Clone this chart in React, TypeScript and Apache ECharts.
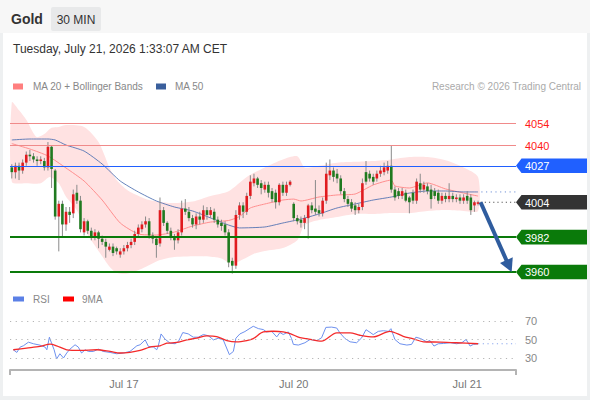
import React, { useEffect, useRef } from "react";
import * as echarts from "echarts";

const FONT = "'Liberation Sans', Arial, Helvetica, sans-serif";

// ---------- data ----------
const N_SLOTS = 140; // candle slots on the time axis (last 10 are empty)

// [open, close, low, high] – 30 min candles, Jul 16 08:30 -> Jul 21 01:30
const candles: number[][] = [
  [4026, 4023, 4019, 4028], [4023, 4027, 4019, 4029], [4027, 4024, 4018, 4029], [4024, 4029, 4022, 4031],
  [4029, 4034, 4027, 4036], [4034, 4033, 4030, 4037], [4033, 4031, 4029, 4035], [4031, 4030, 4027, 4033],
  [4030, 4031, 4028, 4033], [4030, 4026, 4024, 4032], [4026, 4039, 4024, 4042], [4039, 4025, 4013, 4040],
  [4024, 3995, 3993, 4025], [3995, 4003, 3973, 4005], [4003, 3990, 3982, 4005], [3990, 3998, 3986, 4001],
  [3998, 3996, 3991, 4001], [3997, 4009, 3994, 4012], [4010, 4005, 4003, 4015], [4005, 3987, 3985, 4008],
  [3985, 3992, 3983, 3994], [3992, 3986, 3984, 3993], [3986, 3982, 3980, 3988], [3982, 3985, 3980, 3987],
  [3985, 3981, 3975, 3986], [3981, 3979, 3977, 3983], [3979, 3976, 3969, 3981], [3974, 3976, 3973, 3978],
  [3976, 3972, 3970, 3978], [3975, 3973, 3971, 3976], [3971, 3973, 3969, 3975], [3973, 3975, 3971, 3977],
  [3975, 3977, 3973, 3979], [3977, 3979, 3975, 3981], [3979, 3984, 3977, 3986], [3984, 3988, 3982, 3990],
  [3987, 3990, 3985, 3992], [3990, 3992, 3988, 3995], [3992, 3983, 3981, 3994], [3983, 3981, 3978, 3985],
  [3981, 3977, 3969, 3982], [3978, 3999, 3976, 4007], [3999, 3991, 3989, 4001], [3991, 3986, 3984, 3992],
  [3986, 3982, 3980, 3988], [3982, 3980, 3974, 3984], [3980, 3985, 3978, 3987], [3985, 4000, 3983, 4005],
  [4000, 3998, 3996, 4006], [3998, 3994, 3992, 4001], [3994, 3990, 3988, 3996], [3990, 3995, 3987, 3997],
  [3995, 3993, 3990, 3998], [3993, 3999, 3991, 4002], [3999, 3996, 3993, 4001], [3996, 3999, 3994, 4001],
  [3998, 3993, 3991, 4000], [3993, 3990, 3988, 3995], [3991, 3989, 3986, 3993], [3990, 3985, 3983, 3992],
  [3985, 3966, 3963, 3987], [3967, 3964, 3959, 3969], [3964, 3996, 3962, 3999], [3996, 4002, 3993, 4004],
  [4002, 3998, 3994, 4004], [3998, 4008, 3996, 4010], [4008, 4017, 4006, 4021], [4016, 4019, 4014, 4022],
  [4019, 4015, 4013, 4020], [4016, 4013, 4009, 4018], [4012, 4015, 4010, 4017], [4015, 4010, 4007, 4017],
  [4011, 4006, 4004, 4013], [4010, 4004, 4000, 4012], [4004, 4015, 4002, 4016], [4015, 4010, 4008, 4017],
  [4010, 4015, 4008, 4017], [4015, 4017, 4014, 4018], [4003, 3994, 3992, 4004], [3994, 3992, 3990, 3996],
  [3993, 3991, 3988, 3995], [3991, 3994, 3987, 3996], [3994, 4002, 3981, 4003], [4002, 3999, 3997, 4004],
  [4000, 3998, 3996, 4018], [3999, 3997, 3995, 4002], [3997, 4005, 3995, 4007], [4005, 4022, 4003, 4029],
  [4021, 4024, 4018, 4031], [4024, 4020, 4017, 4026], [4022, 4019, 4016, 4025], [4019, 4011, 4009, 4021],
  [4011, 4006, 4004, 4013], [4006, 4003, 4001, 4008], [4004, 4000, 3998, 4006], [4002, 3999, 3996, 4004],
  [3999, 4001, 3997, 4003], [4001, 4016, 3999, 4019], [4023, 4017, 4015, 4030], [4022, 4019, 4017, 4024],
  [4020, 4017, 4015, 4022], [4019, 4022, 4017, 4024], [4022, 4024, 4020, 4027], [4023, 4026, 4021, 4029],
  [4024, 4027, 4022, 4030], [4027, 4012, 4010, 4040], [4012, 4007, 4005, 4014], [4011, 4008, 4006, 4013],
  [4008, 4011, 4006, 4013], [4010, 4005, 4004, 4012], [4007, 4004, 3997, 4008], [4010, 4005, 4003, 4012],
  [4005, 4017, 4003, 4019], [4016, 4012, 4010, 4022], [4012, 4015, 4010, 4017], [4014, 4011, 4009, 4016],
  [4012, 4006, 4000, 4015], [4011, 4008, 4006, 4013], [4010, 4005, 4003, 4012], [4005, 4008, 4003, 4010],
  [4008, 4006, 4004, 4010], [4006, 4008, 4004, 4016], [4008, 4006, 4004, 4010], [4006, 4007, 4004, 4009],
  [4007, 4005, 4003, 4009], [4005, 4007, 4003, 4009], [4008, 4005, 4003, 4011], [4007, 3999, 3996, 4009],
  [4002, 4004, 3998, 4005], [4003, 4004, 4002, 4005],
];

// [candle index, price]
const upperBand: number[][] = [
  [0, 4067], [2, 4062], [4, 4056], [6, 4047.5], [7, 4045], [9, 4047], [11, 4051], [13, 4051.5],
  [15, 4052.7], [20, 4051.5], [24, 4042], [27, 4026], [29, 4018], [32, 4011.5], [35.5, 4007.5],
  [38, 4005.4], [44, 4003.5], [50, 4004.5], [55, 4008], [60, 4011], [65, 4020], [70, 4026], [75, 4031],
  [79, 4033], [81, 4026], [85, 4027], [90, 4029], [95, 4029.5], [100, 4030], [105, 4031], [110, 4032.5],
  [115, 4032.5], [120, 4030.5], [125, 4026], [129, 4020],
];
const lowerBand: number[][] = [
  [0, 4017], [4, 4016], [8, 4016], [10.5, 4020], [13, 4016], [15, 4007.5], [18, 3999], [20.7, 3984.6],
  [24.4, 3972], [27, 3963.5], [29, 3959.5], [32, 3959], [36, 3962], [41, 3967.5], [45, 3969.5],
  [52, 3970], [56, 3969.5], [58, 3968.5], [61, 3965], [64, 3968], [67, 3971.5], [70, 3973.2],
  [75, 3975.1], [79, 3980], [81, 3989.6], [85, 3992.8], [90, 3994.7], [95, 3996.6], [100, 3996.6],
  [105, 3997.2], [110, 3997.2], [115, 3998.5], [120, 3999.1], [125, 3998.5], [129, 3998.5],
];
const ma20: number[][] = [
  [0, 4041], [5, 4037.6], [10, 4033.2], [15, 4025.6], [20, 4017.4], [25, 4005.4], [30, 3990.9],
  [35, 3984], [40, 3983.3], [45, 3985.2], [50, 3989], [55, 3991.5], [60, 3992.5], [63, 3995],
  [66, 4000.4], [70, 4002.9], [75, 4005.4], [78, 4006], [80, 4004.8], [85, 4007.3], [90, 4008.6],
  [95, 4009.2], [100, 4014.9], [105, 4018], [106, 4014.3], [110, 4013], [115, 4016.2], [120, 4012.4],
  [125, 4009.8], [129, 4007.9],
];
const ma50: number[][] = [
  [0, 4043.3], [5, 4043.9], [10, 4043.9], [12, 4043.3], [15, 4040.1], [20, 4036.3], [25, 4028.1],
  [30, 4017.4], [35, 4010.5], [40, 4004.8], [45, 4001], [50, 3998.5], [55, 3994.1], [60, 3989.6],
  [63, 3987.8], [70, 3988.4], [75, 3990.9], [80, 3993.4], [85, 3996.6], [90, 4000.4], [95, 4002.9],
  [100, 4005.4], [105, 4007.3], [110, 4009.8], [115, 4011.1], [120, 4011.1], [125, 4010.5], [129, 4010.5],
];

// [candle index, RSI]
const rsi: number[][] = [
  [0.4, 38.9], [1.4, 36], [2.3, 41.8], [3.2, 43.2], [4.6, 47.1], [6, 45.4], [7.8, 43.9], [9.2, 41.8],
  [9.7, 38.9], [10.4, 52.5], [11, 46], [11.7, 39], [12.4, 28.9], [13.3, 34.6], [14.3, 30], [15.2, 35.4],
  [16.1, 39.6], [17.5, 44.3], [18.4, 41.8], [19.3, 35.4], [20.3, 38.9], [21.2, 37.1], [22.6, 37.1],
  [23.9, 39.6], [25.3, 37.1], [27.2, 36], [29, 34.6], [30.9, 35.4], [32.7, 37.1], [34.6, 43.2],
  [35.5, 44.3], [36.9, 49.6], [37.8, 42.5], [39.2, 41.8], [40.1, 38.9], [40.5, 42.5], [41.3, 56],
  [42.4, 50.4], [43.8, 46], [45.2, 45.4], [46.1, 47.9], [47.3, 57.5], [48.8, 56.1], [50.2, 52.5],
  [51.6, 52.5], [53, 55.4], [54.4, 54], [55.8, 49.6], [57.1, 51.4], [58.5, 49.6], [60.2, 33.6],
  [61.3, 37.1], [62, 51.4], [63.1, 56], [64.5, 58.6], [65.9, 62.1], [66.8, 64.3], [68.2, 61.8],
  [69.6, 60.7], [70.5, 58.2], [71.9, 58.9], [73.3, 52.8], [74.2, 57.5], [75.1, 55.4], [76.5, 58.2],
  [77.4, 51], [77.9, 44.7], [79.3, 44], [81.1, 46.5], [82.5, 50], [84.4, 48.9], [85.7, 51.8],
  [86.9, 63.1], [88.5, 63.4], [89.9, 62.4], [90.8, 57], [92.2, 51], [93.6, 47.5], [95.4, 46.5],
  [96.8, 51.8], [98, 60.6], [99.1, 57.8], [100, 55.3], [101.4, 58.8], [102.8, 59.5], [104.2, 58.8],
  [104.9, 61.7], [106, 50], [107.4, 45.4], [109.3, 44], [110.6, 44.7], [111.8, 52.5], [113.1, 51],
  [114.8, 47.5], [115.7, 48.9], [116.8, 42.9], [118, 45.4], [119.4, 45.7], [121.3, 46.5], [123.1, 45.4],
  [124.5, 46.5], [125.7, 50], [126.8, 42.9], [127.7, 44.7], [129, 45.4],
];
const rsiMa9: number[][] = [
  [0.4, 38.9], [4.1, 40.7], [7.8, 42.5], [10.6, 45], [12.4, 43.2], [15.2, 38.9], [18.9, 38.2],
  [23.5, 38.9], [27.2, 37.1], [29.9, 35.4], [32.7, 36.1], [35.5, 38.2], [38.2, 41.8], [41, 43.2],
  [42.9, 46], [45.6, 46.8], [48.4, 49.6], [51.2, 51.4], [53.9, 53.9], [56.7, 53.2], [59.5, 48.9],
  [62.2, 47.5], [65, 48.9], [66.8, 51], [69.6, 58.2], [72.4, 58.9], [75.1, 58.2], [77, 56.4],
  [79.7, 52], [81.6, 51], [85.7, 48.2], [89.9, 57.1], [93.6, 57.1], [96.3, 54.6], [100, 52.8],
  [104.6, 58.8], [108.3, 53.5], [111.1, 50.7], [113.9, 47.5], [118.5, 47.2], [123.1, 46.5], [129, 45.4],
];
const rsiLevels = [70, 50, 30];

const levelValues = [4054, 4040, 4027, 4004, 3982, 3960];
const levelTypes = ["resistance", "resistance", "pivot", "last", "support", "support"];
const lastClose = 4004;
const ma50Last = 4010.5;
const rsiLast = 45.4;
const arrowFrom = [129.7, 4004];
const arrowTo = [138.3, 3960];

const xTickIndex = [31, 78, 126];
const xTickLabels = ["Jul 17", "Jul 20", "Jul 21"];

const titleText = "Gold";
const periodText = "30 MIN";
const dateText = "Tuesday, July 21, 2026 1:33:07 AM CET";
const legendMain = ["MA 20 + Bollinger Bands", "MA 50"];
const legendRsi = ["RSI", "9MA"];
const creditText = "Research \u00A9 2026 Trading Central";

// ---------- styles ----------
const UP = "#e01b1f";
const DOWN = "#207a20";
const WICK = "#8a8a8a";
const LEVEL_STYLE: Record<string, any> = {
  resistance: { line: "#f08a8a", width: 1, text: "#ff1a1a" },
  pivot: { line: "#2060ff", width: 1.2, tag: "#2060ff" },
  last: { tag: "#333333" },
  support: { line: "#0a7a0a", width: 2, tag: "#0a7a0a" },
};

export default function App() {
  const ref = useRef<HTMLDivElement>(null);

  useEffect(() => {
    const chart = echarts.init(ref.current!, undefined, { renderer: "svg" });
    const last = candles.length - 1;

    const candleData = candles.map((c, i) => [i, c[0], c[1], c[2], c[3]]);

    const option: any = {
      animation: false,
      textStyle: { fontFamily: FONT },
      grid: [
        { left: 10, width: 506, top: 97.64, height: 190.2 },
        { left: 10, width: 506, top: 311.75, height: 58.275 },
      ],
      xAxis: [
        { type: "value", gridIndex: 0, min: -0.5, max: N_SLOTS - 0.5, show: false },
        {
          type: "value",
          gridIndex: 1,
          min: -0.5,
          max: N_SLOTS - 0.5,
          axisLine: { show: true, onZero: false, lineStyle: { color: "#b4b4b4", width: 2 } },
          axisTick: {
            show: true,
            customValues: [-0.5, N_SLOTS - 0.5],
            length: 5,
            lineStyle: { color: "#b4b4b4", width: 2 },
          },
          axisLabel: {
            customValues: xTickIndex,
            formatter: (v: number) => {
              const k = xTickIndex.indexOf(Math.round(v));
              return k >= 0 ? xTickLabels[k] : "";
            },
            color: "#777",
            fontSize: 11,
            margin: 8,
            fontFamily: FONT,
          },
          splitLine: { show: false },
        },
      ],
      yAxis: [
        { type: "value", gridIndex: 0, min: 3950, max: 4070, show: false, splitLine: { show: false } },
        { type: "value", gridIndex: 1, min: 17, max: 80, show: false, splitLine: { show: false } },
      ],
      graphic: [
        { type: "rect", z: -10, shape: { x: 0, y: 0, width: 590, height: 33 }, style: { fill: "#f7f7f7" } },
        { type: "rect", z: -10, shape: { x: 3, y: 33, width: 584, height: 363 }, style: { fill: "#ffffff" } },
        { type: "text", style: { text: titleText, x: 11, y: 19, verticalAlign: "middle", font: `bold 14px ${FONT}`, fill: "#333" } },
        { type: "rect", shape: { x: 51, y: 7, width: 50, height: 24, r: 2 }, style: { fill: "#e8e9ea" } },
        { type: "text", style: { text: periodText, x: 76, y: 19.5, align: "center", verticalAlign: "middle", font: `12px ${FONT}`, fill: "#333" } },
        { type: "text", style: { text: dateText, x: 13, y: 48.5, verticalAlign: "middle", font: `12px ${FONT}`, fill: "#333" } },
        { type: "rect", shape: { x: 13, y: 83.5, width: 10, height: 6 }, style: { fill: "#ff7f7f" } },
        { type: "text", style: { text: legendMain[0], x: 33, y: 86.5, verticalAlign: "middle", font: `10px ${FONT}`, fill: "#888" } },
        { type: "rect", shape: { x: 156, y: 83.5, width: 10, height: 6 }, style: { fill: "#3a5f9c" } },
        { type: "text", style: { text: legendMain[1], x: 175, y: 86.5, verticalAlign: "middle", font: `10px ${FONT}`, fill: "#888" } },
        { type: "text", style: { text: creditText, x: 581, y: 86.5, align: "right", verticalAlign: "middle", font: `10px ${FONT}`, fill: "#aaa" } },
        { type: "rect", shape: { x: 13, y: 296.5, width: 11, height: 5 }, style: { fill: "#5b80e6" } },
        { type: "text", style: { text: legendRsi[0], x: 33, y: 299, verticalAlign: "middle", font: `10px ${FONT}`, fill: "#888" } },
        { type: "rect", shape: { x: 63, y: 296.5, width: 11, height: 5 }, style: { fill: "#ff0000" } },
        { type: "text", style: { text: legendRsi[1], x: 82, y: 299, verticalAlign: "middle", font: `10px ${FONT}`, fill: "#888" } },
      ],
      series: [
        {
          type: "custom",
          name: "bollinger",
          xAxisIndex: 0,
          yAxisIndex: 0,
          z: 1,
          silent: true,
          data: [[0, 4000]],
          encode: { x: 0, y: 1 },
          renderItem: (_p: any, api: any) => {
            const pts = upperBand
              .map((p) => api.coord(p))
              .concat(lowerBand.slice().reverse().map((p) => api.coord(p)));
            return {
              type: "polygon",
              shape: { points: pts, smooth: 0.25 },
              style: { fill: "#ffe2e2" },
            };
          },
        },
        {
          type: "line",
          name: "MA 20",
          xAxisIndex: 0,
          yAxisIndex: 0,
          z: 2,
          data: ma20,
          symbol: "none",
          smooth: 0.2,
          lineStyle: { color: "#ff8e8e", width: 1 },
          silent: true,
        },
        {
          type: "line",
          name: "MA 50",
          xAxisIndex: 0,
          yAxisIndex: 0,
          z: 2,
          data: ma50,
          symbol: "none",
          smooth: 0.2,
          lineStyle: { color: "#4a6db0", width: 1, opacity: 0.85 },
          silent: true,
        },
        {
          type: "custom",
          name: "candles",
          xAxisIndex: 0,
          yAxisIndex: 0,
          z: 3,
          silent: true,
          data: candleData,
          encode: { x: 0, y: [1, 2, 3, 4] },
          renderItem: (_p: any, api: any) => {
            const i = api.value(0);
            const o = api.value(1);
            const c = api.value(2);
            const l = api.value(3);
            const h = api.value(4);
            const pO = api.coord([i, o]);
            const pC = api.coord([i, c]);
            const pL = api.coord([i, l]);
            const pH = api.coord([i, h]);
            const w = api.size([1, 0])[0] * 0.72;
            const top = Math.min(pO[1], pC[1]);
            const ht = Math.max(Math.abs(pO[1] - pC[1]), 1);
            return {
              type: "group",
              children: [
                { type: "line", shape: { x1: pH[0], y1: pH[1], x2: pL[0], y2: pL[1] }, style: { stroke: WICK, lineWidth: 1 } },
                { type: "rect", shape: { x: pO[0] - w / 2, y: top, width: w, height: ht }, style: { fill: c >= o ? UP : DOWN } },
              ],
            };
          },
        },
        {
          type: "line",
          name: "lastExt",
          xAxisIndex: 0,
          yAxisIndex: 0,
          z: 3,
          data: [[arrowFrom[0], lastClose], [N_SLOTS - 0.5, lastClose]],
          symbol: "none",
          lineStyle: { color: "#555", width: 1, type: [1.2, 3] },
          silent: true,
        },
        {
          type: "line",
          name: "ma50Ext",
          xAxisIndex: 0,
          yAxisIndex: 0,
          z: 3,
          data: [[last + 0.9, ma50Last], [N_SLOTS - 0.5, ma50Last]],
          symbol: "none",
          lineStyle: { color: "#7191d6", width: 1, type: [1.2, 3.5] },
          silent: true,
        },
        {
          type: "custom",
          name: "levels",
          xAxisIndex: 0,
          yAxisIndex: 0,
          z: 4,
          clip: false,
          silent: true,
          data: levelValues.map((v) => [0, v]),
          encode: { x: 0, y: 1 },
          renderItem: (params: any, api: any) => {
            const cs = params.coordSys;
            const v = api.value(1);
            const st = LEVEL_STYLE[levelTypes[params.dataIndex]];
            const yRaw = api.coord([0, v])[1];
            const left = cs.x;
            const right = cs.x + cs.width;
            const children: any[] = [];
            if (st.line) {
              const y = st.width >= 2 ? Math.round(yRaw) : Math.round(yRaw) + 0.5;
              children.push({
                type: "line",
                shape: { x1: left, y1: y, x2: right, y2: y },
                style: { stroke: st.line, lineWidth: st.width },
              });
            }
            if (st.tag) {
              const hh = 7.3;
              children.push({
                type: "polygon",
                shape: {
                  points: [
                    [right, yRaw],
                    [right + 5.5, yRaw - hh],
                    [right + 71, yRaw - hh],
                    [right + 71, yRaw + hh],
                    [right + 5.5, yRaw + hh],
                  ],
                },
                style: { fill: st.tag },
              });
              children.push({
                type: "text",
                style: { text: String(v), x: right + 9, y: yRaw + 0.5, verticalAlign: "middle", fill: "#ffffff", font: `11px ${FONT}` },
              });
            } else {
              children.push({
                type: "text",
                style: { text: String(v), x: right + 9, y: yRaw + 0.5, verticalAlign: "middle", fill: st.text, font: `11px ${FONT}` },
              });
            }
            return { type: "group", children };
          },
        },
        {
          type: "custom",
          name: "arrow",
          xAxisIndex: 0,
          yAxisIndex: 0,
          z: 5,
          clip: false,
          silent: true,
          data: [[arrowFrom[0], arrowFrom[1], arrowTo[0], arrowTo[1]]],
          encode: { x: [0, 2], y: [1, 3] },
          renderItem: (_p: any, api: any) => {
            const a = api.coord([api.value(0), api.value(1)]);
            const b = api.coord([api.value(2), api.value(3)]);
            const dx = b[0] - a[0];
            const dy = b[1] - a[1];
            const len = Math.hypot(dx, dy);
            const ux = dx / len;
            const uy = dy / len;
            const headLen = 13;
            const headW = 7;
            const base = [b[0] - ux * headLen, b[1] - uy * headLen];
            const px = -uy;
            const py = ux;
            return {
              type: "group",
              children: [
                { type: "line", shape: { x1: a[0], y1: a[1], x2: base[0] + ux * 2, y2: base[1] + uy * 2 }, style: { stroke: "#2f5c9e", lineWidth: 4 } },
                {
                  type: "polygon",
                  shape: { points: [b, [base[0] + px * headW, base[1] + py * headW], [base[0] - px * headW, base[1] - py * headW]] },
                  style: { fill: "#2f5c9e" },
                },
              ],
            };
          },
        },
        {
          type: "line",
          name: "RSI",
          xAxisIndex: 1,
          yAxisIndex: 1,
          z: 2,
          data: rsi,
          symbol: "none",
          lineStyle: { color: "#6d90ee", width: 1 },
          silent: true,
          markLine: {
            silent: true,
            symbol: "none",
            lineStyle: { type: [1.2, 4.5], color: "#b5b5b5", width: 1 },
            label: {
              position: "end",
              formatter: (p: any) => String(p.value),
              color: "#888",
              fontSize: 11,
              distance: 9,
              fontFamily: FONT,
            },
            data: rsiLevels.map((v) => ({ yAxis: v })),
          },
        },
        {
          type: "line",
          name: "9MA",
          xAxisIndex: 1,
          yAxisIndex: 1,
          z: 3,
          data: rsiMa9,
          symbol: "none",
          smooth: 0.3,
          lineStyle: { color: "#f42a2a", width: 1.3 },
          silent: true,
        },
        {
          type: "line",
          name: "rsiExt",
          xAxisIndex: 1,
          yAxisIndex: 1,
          z: 2,
          data: [[last, rsiLast], [N_SLOTS - 0.5, rsiLast]],
          symbol: "none",
          lineStyle: { color: "#8aa6ee", width: 1, type: [1.2, 3.5] },
          silent: true,
        },
      ],
    };

    chart.setOption(option);
    return () => chart.dispose();
  }, []);

  return (
    <div
      ref={ref}
      style={{ position: "absolute", left: 0, top: 0, width: 590, height: 400, background: "#eef0f1" }}
    />
  );
}
